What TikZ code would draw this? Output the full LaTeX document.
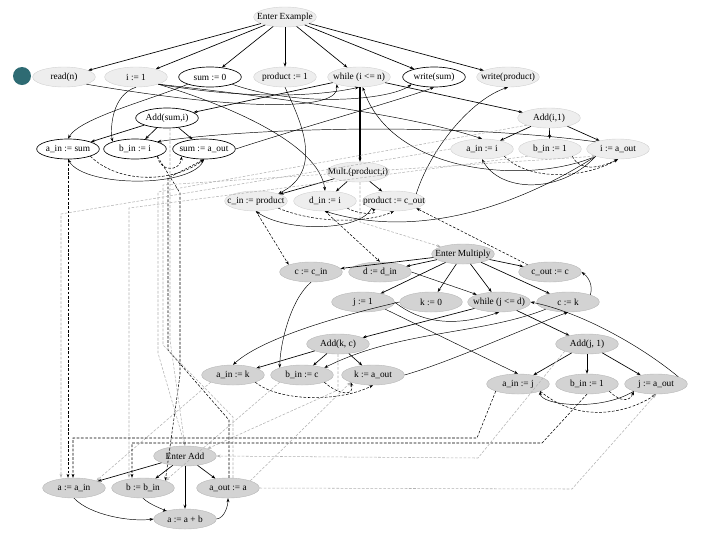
\documentclass[tikz,border=0pt]{standalone}
\usepackage{fontspec}
\setmainfont{Liberation Serif}
\usetikzlibrary{shapes.geometric,arrows.meta}
\definecolor{ltfill}{HTML}{EEEEEE}
\definecolor{dkfill}{HTML}{D3D3D3}
\definecolor{bulletc}{HTML}{2E6B73}
\newcommand{\nt}[1]{\makebox[0pt]{#1}}
\begin{document}
\begin{tikzpicture}[x=0.75pt,y=-0.75pt,
  nbase/.style={ellipse, minimum width=47pt, minimum height=15pt, inner sep=0pt, font=\fontsize{7}{8}\selectfont},
  ndL/.style={nbase, fill=ltfill, draw=gray!35, line width=0.3pt},
  ndW/.style={nbase, fill=white, draw=black, line width=0.5pt},
  ndD/.style={nbase, fill=dkfill, draw=gray!55, line width=0.3pt},
  ce/.style={-{Stealth[length=3pt,width=2.2pt]}, line width=0.5pt},
  de/.style={-{Stealth[length=3pt,width=2.2pt]}, line width=0.35pt},
  pe/.style={-{Stealth[length=3pt,width=2.2pt]}, line width=0.4pt, dash pattern=on 2pt off 1.2pt},
  ge/.style={pe, draw=gray!60},
]
\fill[white] (0,0) rectangle (720,540);
\useasboundingbox (0,0) rectangle (720,540);
\fill[bulletc] (22,76) circle[radius=6.75pt];

% ---------- nodes ----------
\node[ndL] (EE) at (285,17) {\nt{Enter Example}};
\node[ndL] (rn) at (64,77) {\nt{read(n)}};
\node[ndL] (i1) at (136,77) {\nt{i := 1}};
\node[ndW] (s0) at (210,77) {\nt{sum := 0}};
\node[ndL] (p1) at (285,77) {\nt{product := 1}};
\node[ndL] (wi) at (359,77) {\nt{while (i <= n)}};
\node[ndW] (ws) at (434,77) {\nt{write(sum)}};
\node[ndL] (wp) at (508,77) {\nt{write(product)}};
\node[ndW] (As) at (167,118) {\nt{Add(sum,i)}};
\node[ndL] (Ai) at (549,118) {\nt{Add(i,1)}};
\node[ndW] (ais) at (68,149) {\nt{a\_in := sum}};
\node[ndW] (bii) at (135,149) {\nt{b\_in := i}};
\node[ndW] (sao) at (204,149) {\nt{sum := a\_out}};
\node[ndL] (aii) at (482,149) {\nt{a\_in := i}};
\node[ndL] (bi1) at (550,149) {\nt{b\_in := 1}};
\node[ndL] (iao) at (618,149) {\nt{i := a\_out}};
\node[ndL] (Mu) at (358,172) {\nt{Mult.(product,i)}};
\node[ndL] (cip) at (256,201) {\nt{c\_in := product}};
\node[ndL] (dii) at (325,201) {\nt{d\_in := i}};
\node[ndL] (pco) at (394,201) {\nt{product := c\_out}};
\node[ndD] (EM) at (463,254) {\nt{Enter Multiply}};
\node[ndD] (cci) at (311,272) {\nt{c := c\_in}};
\node[ndD] (ddi) at (380,272) {\nt{d := d\_in}};
\node[ndD] (coc) at (550,272) {\nt{c\_out := c}};
\node[ndD] (j1) at (363,302) {\nt{j := 1}};
\node[ndD] (k0) at (431,302) {\nt{k := 0}};
\node[ndD] (wj) at (499,302) {\nt{while (j <= d)}};
\node[ndD] (ck) at (568,302) {\nt{c := k}};
\node[ndD] (Akc) at (338,344) {\nt{Add(k, c)}};
\node[ndD] (Aj1) at (587,344) {\nt{Add(j, 1)}};
\node[ndD] (aik) at (233,375) {\nt{a\_in := k}};
\node[ndD] (bic) at (302,375) {\nt{b\_in := c}};
\node[ndD] (kao) at (373,375) {\nt{k := a\_out}};
\node[ndD] (aij) at (518,384) {\nt{a\_in := j}};
\node[ndD] (bj1) at (587,384) {\nt{b\_in := 1}};
\node[ndD] (jao) at (656,384) {\nt{j := a\_out}};
\node[ndD] (EA) at (185,456) {\nt{Enter Add}};
\node[ndD] (aai) at (74,488) {\nt{a := a\_in}};
\node[ndD] (bbi) at (143,488) {\nt{b := b\_in}};
\node[ndD] (aoa) at (228,488) {\nt{a\_out := a}};
\node[ndD] (aab) at (185,519) {\nt{a := a + b}};

% ---------- control edges ----------
\foreach \t in {rn,i1,s0,p1,wi,ws,wp} \draw[ce] (EE) -- (\t);
\draw[ce] (wi) -- (As);
\draw[ce] (wi) -- (Ai);
\draw[ce, line width=0.8pt] (wi.south -| 360,0) -- (Mu.north -| 360,0);
\foreach \t in {ais,bii,sao} \draw[ce] (As) -- (\t);
\foreach \t in {aii,bi1,iao} \draw[ce] (Ai) -- (\t);
\foreach \t in {cip,dii,pco} \draw[ce] (Mu) -- (\t);
\foreach \t in {cci,ddi,coc,j1,k0,wj,ck} \draw[ce] (EM) -- (\t);
\draw[ce] (wj) -- (Akc);
\draw[ce] (wj) -- (Aj1);
\foreach \t in {aik,bic,kao} \draw[ce] (Akc) -- (\t);
\foreach \t in {aij,bj1,jao} \draw[ce] (Aj1) -- (\t);
\foreach \t in {aai,bbi,aoa,aab} \draw[ce] (EA) -- (\t);

% ---------- data edges ----------
\draw[de] (rn.south east) .. controls (250,112) and (340,110) .. (wi.south west);
\draw[de] (i1.south) .. controls (112,95) and (110,128) .. (bii.north west);
\draw[de] (i1.south east) .. controls (300,100) and (420,118) .. (aii.north);
\draw[de] (i1.south east) .. controls (250,112) and (320,150) .. (dii.north);
\draw[de] (i1.south east) .. controls (250,100) and (320,96) .. (wi.south);
\draw[de] (s0.south west) .. controls (150,100) and (80,118) .. (ais.north);
\draw[de] (s0.south east) .. controls (300,108) and (390,100) .. (ws.south west);
\draw[de] (sao.east) .. controls (300,128) and (400,100) .. (ws.south);
\draw[de] (sao.south) .. controls (195,188) and (85,188) .. (ais.south);
\draw[de] (p1.south) .. controls (300,120) and (325,170) .. (cip.north east);
\draw[de] (pco.north east) .. controls (430,150) and (470,100) .. (wp.south);
\draw[de] (pco.south west) .. controls (360,232) and (285,232) .. (cip.south);
\draw[de] (iao.south west) .. controls (530,185) and (392,175) .. (wi.-70);
\draw[de] (iao.north west) .. controls (450,122) and (250,128) .. (bii.north east);
\draw[de] (iao.south west) .. controls (560,195) and (500,192) .. (aii.south);
\draw[de] (iao.south west) .. controls (520,205) and (420,240) .. (dii.south);

\draw[de] (cci.south) .. controls (290,300) and (280,345) .. (bic.north west);
\draw[de] (ddi.east) .. controls (440,282) and (470,292) .. (wj.north west);
\draw[de] (j1.east) .. controls (430,330) and (470,322) .. (wj.south);
\draw[de] (j1.south east) -- (aij.north);
\draw[de] (k0.west) .. controls (330,318) and (260,340) .. (aik.north);
\draw[de] (kao.east) .. controls (450,362) and (520,330) .. (ck.south);
\draw[de] (ck.south west) .. controls (480,335) and (400,330) .. (bic.north east);
\draw[de] (ck.north east) .. controls (592,290) and (592,280) .. (coc.east);
\draw[de] (jao.north east) .. controls (640,345) and (580,312) .. (wj.east);
\draw[de] (jao.south west) .. controls (600,412) and (540,405) .. (aij.south east);

\draw[de] (aai.south) .. controls (90,515) and (130,522) .. (aab.west);
\draw[de] (bbi.south) .. controls (150,505) and (165,510) .. (aab.north west);
\draw[de] (aab.east) .. controls (225,518) and (228,505) .. (aoa.south);

% ---------- summary edges ----------
\draw[pe] (ais.south east) .. controls (120,185) and (175,182) .. (sao.south);
\draw[pe] (bii.south east) .. controls (160,172) and (180,172) .. (sao.south west);
\draw[pe] (aii.south east) .. controls (530,182) and (585,178) .. (iao.south);
\draw[pe] (bi1.south east) .. controls (580,172) and (600,168) .. (iao.south);
\draw[pe] (cip.south east) .. controls (320,225) and (370,222) .. (pco.south);
\draw[pe] (dii.south east) .. controls (360,215) and (380,215) .. (pco.south west);
\draw[pe] (aik.south east) .. controls (280,402) and (340,402) .. (kao.south);
\draw[pe] (bic.south east) .. controls (340,396) and (355,396) .. (kao.south west);
\draw[pe] (aij.south east) .. controls (580,425) and (630,412) .. (jao.south);
\draw[pe] (bj1.south east) .. controls (620,402) and (630,402) .. (jao.south west);

% ---------- parameter / call edges ----------
\draw[pe] (ais.south -| 68,0) -- (aai.north -| 68,0);
\draw[pe] (bii.south east) -- (180,193) -- (180,375) -- (bbi.north east);
\draw[pe] (aoa.north -| 229,0) -- (229,420) -- (168,350) -- (168,178) -- (sao.south);
\draw[ge] (As.south -| 170,0) -- (170,340) -- (EA.north);
\draw[ge] (aii.west) -- (61,214) -- (aai.north -| 61,0);
\draw[ge] (bi1.south west) -- (129,208) -- (bbi.north -| 129,0);
\draw[ge] (Ai.south west) -- (158,192) -- (158,353) -- (EA.north);
\draw[ge] (aoa.north -| 233,0) -- (233,417) -- (163,345) -- (163,185) -- (iao.south west);
\draw[pe] (cip.south) -- (cci.north west);
\draw[pe] (dii.south) -- (ddi.north);
\draw[pe] (coc.north west) -- (pco.south east);
\draw[ge] (Mu.south -| 360,0) -- (360,222) -- (EM.north west);
\draw[ge] (aik.south west) -- (aai.north east);
\draw[ge] (bic.south west) -- (bbi.north east);
\draw[ge] (aoa.north east) -- (kao.south west);
\draw[ge] (Akc.south) -- (338,390) -- (EA.north east);
\draw[pe] (aij.south west) -- (477,438) -- (73,438) -- (aai.north -| 73,0);
\draw[pe] (bj1.south) -- (542,443) -- (132,443) -- (bbi.north -| 132,0);
\draw[ge] (Aj1.south west) -- (478,458) -- (EA.east);
\draw[ge] (aoa.east) -- (572,489) -- (jao.south);
\end{tikzpicture}
\end{document}
